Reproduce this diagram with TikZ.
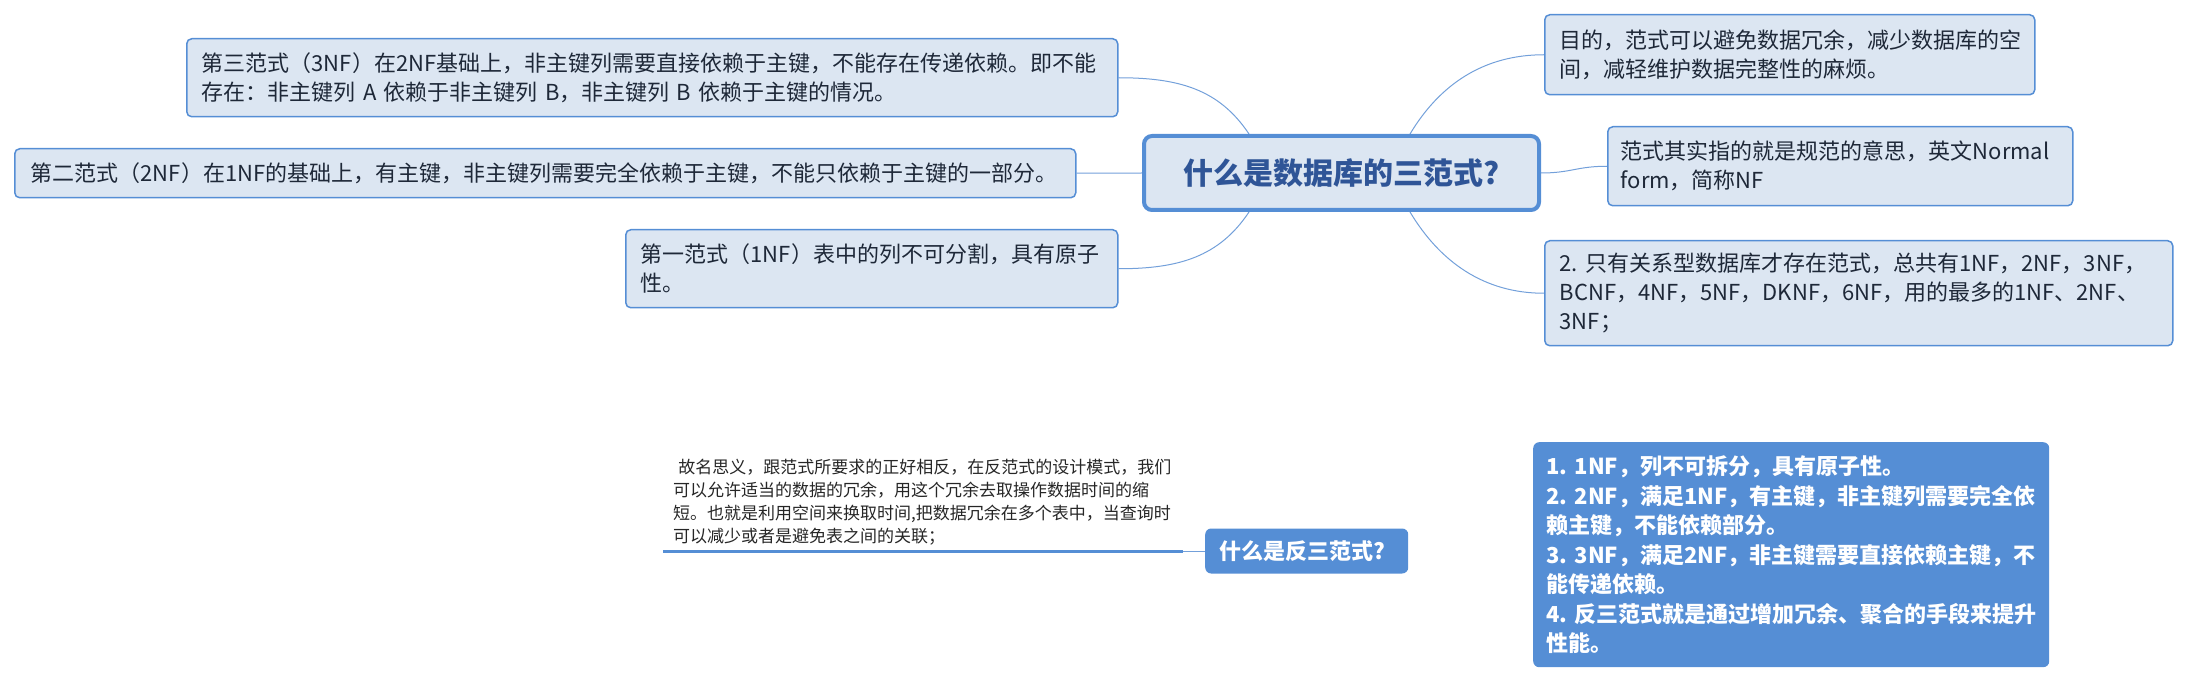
\documentclass[tikz,border=0pt]{standalone}
\usepackage{fontspec}
\setmainfont{Noto Sans CJK SC}
\frenchspacing
\usetikzlibrary{positioning, calc, backgrounds}
\definecolor{boxfill}{HTML}{DCE6F2}
\definecolor{boxline}{HTML}{558ED5}
\definecolor{titleblue}{HTML}{2F5597}
\definecolor{bodyink}{HTML}{1E2838}
\definecolor{branchblue}{HTML}{73A0DA}
\tikzset{
    topicbox/.style={rectangle, rounded corners=5pt, draw=boxline, line width=1.5pt, fill=boxfill, anchor=north west, inner xsep=15pt, inner ysep=0pt, align=left, text=bodyink, font=\fontsize{22}{29}\selectfont},
    mainbox/.style={rectangle, rounded corners=8pt, draw=boxline, line width=4pt, fill=boxfill, text=titleblue, font=\fontsize{30}{36}\selectfont\bfseries},
    solidbox/.style={rectangle, rounded corners=6pt, fill=boxline, text=white, align=left, inner ysep=0pt, font=\fontsize{22}{29.5}\selectfont\bfseries},
    branch/.style={draw=branchblue, line width=1pt},
}

\begin{document}
\begin{tikzpicture}[
    x=1pt, y=-1pt,
    notebox/.style={anchor=south west, inner xsep=10pt, inner ysep=6pt, text width=500pt, align=left, text=black!85, font=\fontsize{17}{23}\selectfont},
    keyline/.style={draw=boxline, line width=3pt},
]
\useasboundingbox (0,0) rectangle (2189,684);

\node[mainbox, minimum width=395pt, minimum height=74pt] (core) at (1341.5,173) {什么是数据库的三范式?};

\node[topicbox, text width=901pt, minimum height=78pt] (nf3) at (186,38) {第三范式（3NF）在2NF基础上，非主键列需要直接依赖于主键，不能存在传递依赖。即不能\\存在：非主键列 A 依赖于非主键列 B，非主键列 B 依赖于主键的情况。};
\node[topicbox, text width=1029pt, inner xsep=16pt, minimum height=49pt] (nf2) at (14,148) {第二范式（2NF）在1NF的基础上，有主键，非主键列需要完全依赖于主键，不能只依赖于主键的一部分。};
\node[topicbox, text width=462pt, minimum height=78pt] (nf1) at (625,229) {第一范式（1NF）表中的列不可分割，具有原子\\性。};

\node[topicbox, text width=460pt, minimum height=80pt] (aim) at (1544,14) {目的，范式可以避免数据冗余，减少数据库的空\\间，减轻维护数据完整性的麻烦。};
\node[topicbox, text width=439pt, inner xsep=13pt, minimum height=79pt] (meaning) at (1607,126) {范式其实指的就是规范的意思，英文Normal\\form，简称NF};
\node[topicbox, text width=598pt, minimum height=105pt] (kinds) at (1544,240) {2. 只有关系型数据库才存在范式，总共有1NF，2NF，3NF，\\BCNF，4NF，5NF，DKNF，6NF，用的最多的1NF、2NF、\\3NF；};

\node[solidbox, anchor=west, text width=175pt, inner xsep=14pt, minimum height=45pt] (anti) at (1205,551) {什么是反三范式?};
\node[notebox] (note) at (663,551) {\hspace*{0.3em}故名思义，跟范式所要求的正好相反，在反范式的设计模式，我们\\可以允许适当的数据的冗余，用这个冗余去取操作数据时间的缩\\短。也就是利用空间来换取时间,把数据冗余在多个表中，当查询时\\可以减少或者是避免表之间的关联；};
\draw[keyline] (note.south west) -- (note.south east);
\draw[branch] (note.south east) -- (anti.west);

\node[solidbox, anchor=north west, text width=490pt, inner xsep=13pt, minimum height=225pt] (sum) at (1533,442) {1. 1NF，列不可拆分，具有原子性。\\2. 2NF，满足1NF，有主键，非主键列需要完全依\\赖主键，不能依赖部分。\\3. 3NF，满足2NF，非主键需要直接依赖主键，不\\能传递依赖。\\4. 反三范式就是通过增加冗余、聚合的手段来提升\\性能。};

\coordinate (topL) at ($(core.north west)+(107,0)$);
\coordinate (botL) at ($(core.south west)+(107,0)$);
\coordinate (topR) at ($(core.north east)+(-131,0)$);
\coordinate (botR) at ($(core.south east)+(-131,0)$);

\begin{scope}[on background layer]
\draw[branch] (topL) .. controls +(-30,-45) and +(60,0) .. (nf3.east);
\draw[branch] (core.west) -- (nf2.east);
\draw[branch] (botL) .. controls +(-30,45) and +(60,0) .. (nf1.east);
\draw[branch] (topR) .. controls +(30,-50) and +(-60,0) .. (aim.west);
\draw[branch] (core.east) .. controls +(30,0) and +(-30,0) .. (meaning.west);
\draw[branch] (botR) .. controls +(30,50) and +(-60,0) .. (kinds.west);
\end{scope}

\end{tikzpicture}
\end{document}
